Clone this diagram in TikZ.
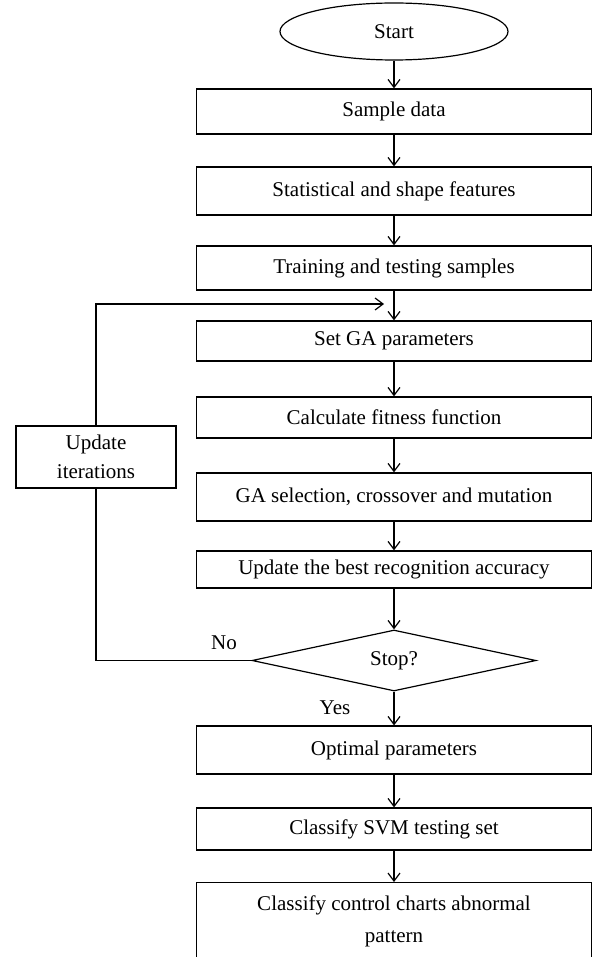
\documentclass[tikz,border=0pt]{standalone}
\usepackage{fontspec}
\setmainfont{Liberation Serif}
\usetikzlibrary{shapes.geometric,arrows.meta}
\tikzset{
  box/.style={draw, line width=1.2pt, minimum width=395pt, inner sep=0pt, align=center},
  conn/.style={line width=1.2pt, -{Straight Barb[length=8pt,width=12pt,line width=1.2pt]}},
  plain/.style={line width=1.2pt},
  lbl/.style={inner sep=0pt}
}
\begin{document}
\begin{tikzpicture}[x=1pt,y=-1pt,font=\fontsize{21}{30}\selectfont]
\clip (0,0) rectangle (592,957);
\node[draw, ellipse, line width=1.2pt, minimum width=228pt, minimum height=57pt, inner sep=0pt] (start) at (394,31.5) {Start};
\node[box, minimum height=45pt] (sample) at (394,111.5) {Sample data};
\node[box, minimum height=48pt] (stat) at (394,191) {Statistical and shape features};
\node[box, minimum height=44pt] (train) at (394,268) {Training and testing samples};
\node[box, minimum height=40pt] (setga) at (394,341) {Set GA parameters};
\node[box, minimum height=41pt] (calc) at (394,417.5) {Calculate fitness function};
\node[box, minimum height=48pt] (gasel) at (394,497) {GA selection, crossover and mutation};
\node[box, minimum height=37pt] (upd) at (394,569.5) {Update the best recognition accuracy};
\node[draw, diamond, line width=1.2pt, shape aspect=4.66, minimum width=284pt, minimum height=61pt, inner sep=0pt] (stop) at (394,660.5) {Stop?};
\node[box, minimum height=48pt] (opt) at (394,750) {Optimal parameters};
\node[box, minimum height=42pt] (svm) at (394,829) {Classify SVM testing set};
\node[box, anchor=north, inner ysep=13.5pt, font=\fontsize{21}{32}\selectfont] (last) at (394,882) {Classify control charts abnormal\\pattern};
\node[draw, line width=1.2pt, minimum width=160pt, minimum height=62pt, inner sep=0pt, align=center, font=\fontsize{21}{29}\selectfont] (iter) at (96,457) {Update\\iterations};
\node[lbl] (no) at (224,643) {No};
\node[lbl] (yes) at (335,708) {Yes};
\coordinate (loopend) at (384,304);
\draw[conn] (start) -- (sample);
\draw[conn] (sample) -- (stat);
\draw[conn] (stat) -- (train);
\draw[conn] (train) -- (setga);
\draw[conn] (setga) -- (calc);
\draw[conn] (calc) -- (gasel);
\draw[conn] (gasel) -- (upd);
\draw[conn] (upd) -- (stop.north);
\draw[conn] (stop.south) -- (opt);
\draw[conn] (opt) -- (svm);
\draw[conn] (svm) -- (last);
\draw[plain] (stop.west) -| (iter.south);
\draw[conn] (iter.north) |- (loopend);
\end{tikzpicture}
\end{document}
